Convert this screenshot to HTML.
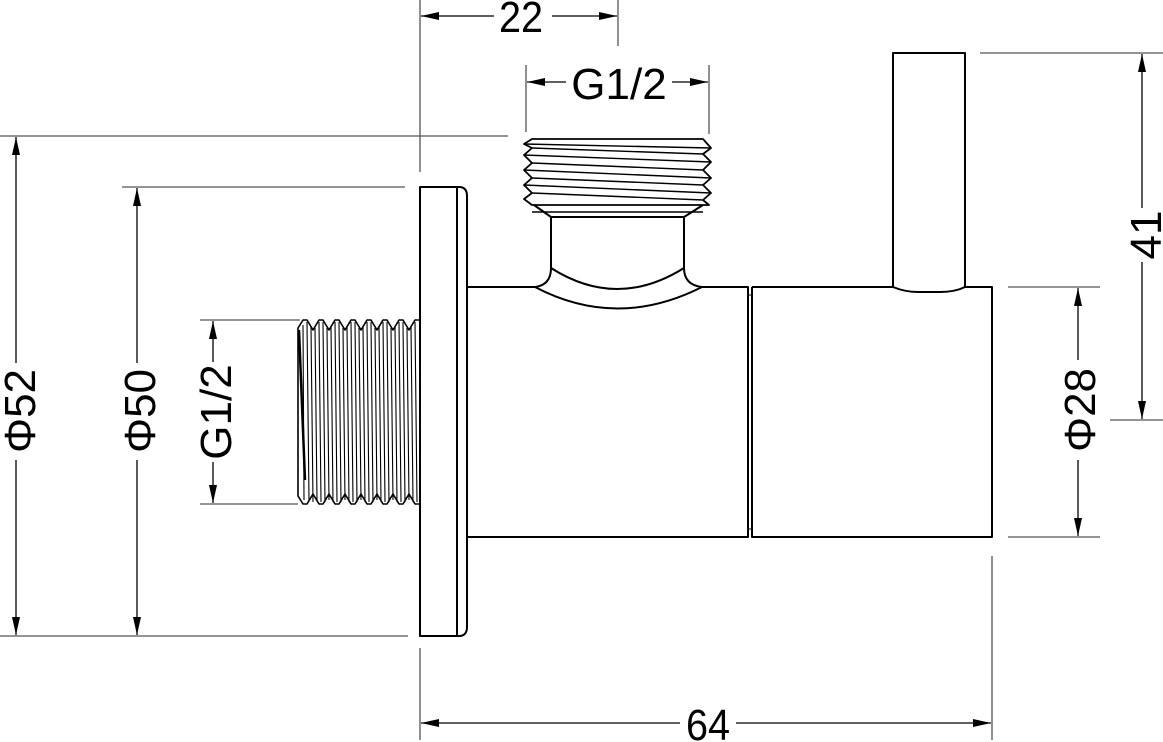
<!DOCTYPE html>
<html><head><style>
html,body{margin:0;padding:0;background:#fff;}
svg{display:block;}
text{font-family:"Liberation Sans",sans-serif;font-size:44px;fill:#000;}
</style></head><body>
<svg width="1163" height="742" viewBox="0 0 1163 742" xmlns="http://www.w3.org/2000/svg">
<defs>
<marker id="a" viewBox="0 0 18 8" refX="18" refY="4" markerWidth="18" markerHeight="8" markerUnits="userSpaceOnUse" orient="auto-start-reverse"><path d="M0,0 L18,4 L0,8 Z" fill="#000"/></marker>
</defs>
<g stroke="#555" stroke-width="1.3" fill="none">
<line x1="420" y1="0" x2="420" y2="172"/>
<line x1="618" y1="0" x2="618" y2="46"/>
<line x1="526" y1="65" x2="526" y2="132"/>
<line x1="709" y1="65" x2="709" y2="134"/>
<line x1="0" y1="136" x2="508" y2="136"/>
<line x1="0" y1="636" x2="408" y2="636"/>
<line x1="122" y1="187" x2="405" y2="187"/>
<line x1="200" y1="320" x2="300" y2="320"/>
<line x1="200" y1="504" x2="298" y2="504"/>
<line x1="980" y1="53" x2="1163" y2="53"/>
<line x1="1110" y1="420" x2="1163" y2="420"/>
<line x1="1008" y1="287" x2="1100" y2="287"/>
<line x1="1008" y1="537" x2="1100" y2="537"/>
<line x1="420" y1="648" x2="420" y2="740"/>
<line x1="992" y1="556" x2="992" y2="740"/>
</g>
<g stroke="#000" stroke-width="1.3" fill="none">
<line x1="421" y1="16" x2="494" y2="16" marker-start="url(#a)"/>
<line x1="552" y1="16" x2="617" y2="16" marker-end="url(#a)"/>
<line x1="527" y1="82" x2="566" y2="82" marker-start="url(#a)"/>
<line x1="672" y1="82" x2="708" y2="82" marker-end="url(#a)"/>
<line x1="16" y1="137" x2="16" y2="363" marker-start="url(#a)"/>
<line x1="16" y1="460" x2="16" y2="635" marker-end="url(#a)"/>
<line x1="137" y1="188" x2="137" y2="363" marker-start="url(#a)"/>
<line x1="137" y1="460" x2="137" y2="635" marker-end="url(#a)"/>
<line x1="213" y1="321" x2="213" y2="362" marker-start="url(#a)"/>
<line x1="213" y1="462" x2="213" y2="503" marker-end="url(#a)"/>
<line x1="1142" y1="54" x2="1142" y2="208" marker-start="url(#a)"/>
<line x1="1142" y1="262" x2="1142" y2="419" marker-end="url(#a)"/>
<line x1="1078" y1="288" x2="1078" y2="360" marker-start="url(#a)"/>
<line x1="1078" y1="460" x2="1078" y2="536" marker-end="url(#a)"/>
<line x1="421" y1="723" x2="680" y2="723" marker-start="url(#a)"/>
<line x1="736" y1="723" x2="991" y2="723" marker-end="url(#a)"/>
</g>
<g stroke="#000" stroke-width="2" fill="none" stroke-linejoin="round">
<path d="M420,187 H459 Q467,187 467,196 V627 Q467,636 459,636 H420 Z"/>
<line x1="457" y1="187" x2="457" y2="636"/>
<path d="M467,287 H535 M702,287 H748 V537 H467"/>
<path d="M752,287 H893 M965,287 H992 V537 H752 V287"/>
<line x1="748" y1="295" x2="752" y2="295" stroke-width="1"/>
<line x1="748" y1="529" x2="752" y2="529" stroke-width="1"/>
<path d="M893,287 V53 H965 V287"/>
<path d="M893,287 Q905,292 918,292 H940 Q955,292 965,287"/>
<path d="M535,287 Q551,285 551,268 V217 H684 V268 Q684,285 702,287"/>
<path d="M535,287 Q617,330 702,287"/>
<path d="M551,268 Q617,310 684,268"/>
<path d="M551,217 L534,205 M684,217 L703,205"/>
<line x1="532" y1="212" x2="703" y2="212" stroke-width="1.5"/>
<path d="M532,139 H703 L711,148 L703,154 L711,162 L703,170 L711,178 L703,185 L711,193 L703,200 L709,205 H532 L524,199 L532,193 L524,185 L532,178 L524,170 L532,163 L524,155 L532,148 L524,144 Z" stroke-width="1.8"/>
<path d="M532,148 L703,154 M532,163 L703,170 M532,178 L703,185 M532,193 L703,200 M524,144 L711,148 M524,155 L711,162 M524,170 L711,178 M524,185 L711,193" stroke-width="1.4"/>
<path d="M420,320 L415,320 L409,330 L403,320 L399,320 L393,330 L387,320 L383,320 L377,330 L371,320 L367,320 L361,330 L355,320 L351,320 L345,330 L339,320 L335,320 L329,330 L323,320 L319,320 L313,330 L307,320 L303,320 L298,328 V496 L303,504 L307,504 L313,494 L319,504 L323,504 L329,494 L335,504 L339,504 L345,494 L351,504 L355,504 L361,494 L367,504 L371,504 L377,494 L383,504 L387,504 L393,494 L399,504 L403,504 L409,494 L415,504 L420,504" stroke-width="1.6"/>
<path d="M303,325 L304,500 M307,322 L309,500 M311,326 L313,502 M315,328 L317,500 M319,322 L321,502 M323,322 L325,502 M327,328 L329,500 M331,326 L333,502 M335,322 L337,502 M339,322 L341,502 M343,328 L345,500 M347,326 L349,502 M351,322 L353,502 M355,322 L357,502 M359,328 L361,500 M363,326 L365,502 M367,322 L369,502 M371,322 L373,502 M375,328 L377,500 M379,326 L381,502 M383,322 L385,502 M387,322 L389,502 M391,328 L393,500 M395,326 L397,502 M399,322 L401,502 M403,322 L405,502 M407,328 L409,500 M411,326 L413,502 M415,322 L417,502" stroke-width="1.1"/>
<path d="M299,330 L305,480" stroke-width="2.5"/>
</g>
<text x="521" y="32" text-anchor="middle" transform="translate(521 0) scale(0.9 1) translate(-521 0)">22</text>
<text x="619" y="99" text-anchor="middle">G1/2</text>
<text x="708" y="740" text-anchor="middle" transform="translate(708 0) scale(0.9 1) translate(-708 0)">64</text>
<text text-anchor="middle" transform="translate(35,411) rotate(-90)">Φ52</text>
<text text-anchor="middle" transform="translate(155,411) rotate(-90)">Φ50</text>
<text text-anchor="middle" transform="translate(231,412) rotate(-90)">G1/2</text>
<text text-anchor="middle" transform="translate(1161,235) rotate(-90)">41</text>
<text text-anchor="middle" transform="translate(1095,410) rotate(-90)">Φ28</text>
</svg>
</body></html>
